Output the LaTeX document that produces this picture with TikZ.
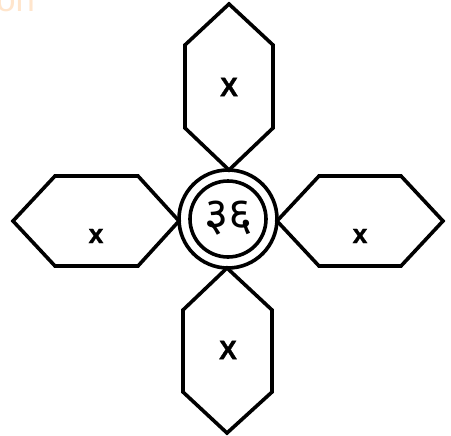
\documentclass[tikz,border=0pt]{standalone}
\usepackage{fontspec}
\setmainfont{Liberation Sans}
\newfontfamily\lblfont{Liberation Sans Bold}[FakeBold=1.2]
\newfontfamily\devafont[Script=Devanagari]{Noto Sans}
\usepackage{tikz}
\usetikzlibrary{calc}
\tikzset{
	petal/.style={line width=2.7pt,line join=miter},
	lbl/.style={font=\lblfont\fontsize{20}{20}\selectfont,inner sep=0pt}
}

\begin{document}
\begin{tikzpicture}[x=0.75pt,y=-0.75pt]
		\useasboundingbox (0,0) rectangle (451,436);
		\node[anchor=base west,text=orange!20,font=\fontsize{26}{26}\selectfont,inner sep=0pt] (mark) at (-4,11) {on};
		\coordinate (C) at (228,219);
		% petals
		\draw[petal] (229,4)--(273,45)--(273,128)--(229,170)--(185,128)--(185,45)--cycle;
		\draw[petal] (227,268)--(272,310)--(272,392)--(227,433)--(183,392)--(183,310)--cycle;
		\draw[petal] (13,221)--(55,176)--(138,176)--(179,221)--(138,266)--(55,266)--cycle;
		\draw[petal] (277,221)--(319,176)--(401,176)--(443,221)--(401,266)--(319,266)--cycle;
		% hub
		\draw[petal] (C) circle(49);
		\draw[petal] (C) circle(38);
		\node[inner sep=0pt,font=\devafont\fontsize{35}{35}\selectfont\bfseries] (num) at (229,218) {३६};
		\node[lbl] (xtop) at (229,87) {X};
		\node[lbl] (xbot) at (228,350) {X};
		\node[lbl] (xleft) at (96,236) {x};
		\node[lbl] (xright) at (360,236) {x};
	\end{tikzpicture}
\end{document}
